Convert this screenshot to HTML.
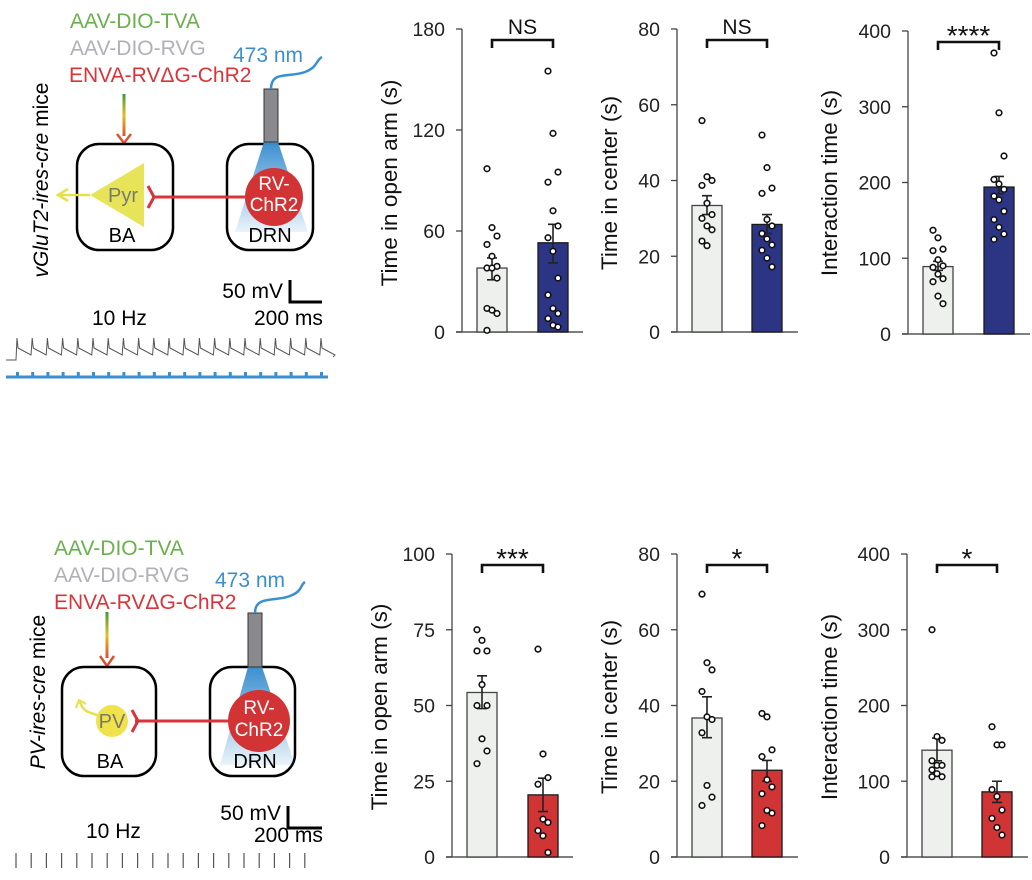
<!DOCTYPE html>
<html><head><meta charset="utf-8"><style>
body{margin:0;background:#fff;}
svg{display:block;font-family:"Liberation Sans",sans-serif;}
</style></head><body>
<svg id="fig" width="1032" height="880" viewBox="0 0 1032 880">
<defs>
<linearGradient id="arr" x1="0" y1="0" x2="0" y2="1"><stop offset="0" stop-color="#3a9a3a"/><stop offset="0.5" stop-color="#e0c020"/><stop offset="1" stop-color="#e05030"/></linearGradient>
<linearGradient id="cone" x1="0" y1="0" x2="0" y2="1"><stop offset="0" stop-color="#3b8fd0"/><stop offset="1" stop-color="#3b8fd0" stop-opacity="0.1"/></linearGradient>
</defs>
<!-- TOP SCHEMATIC -->
<g font-size="21">
<text x="70" y="28" fill="#6ab04c">AAV-DIO-TVA</text>
<text x="70" y="55" fill="#b0b0b8">AAV-DIO-RVG</text>
<text x="69" y="82" fill="#d9343a">ENVA-RVΔG-ChR2</text>
<text x="233" y="62" fill="#3b8fd0">473 nm</text>
<rect x="122.5" y="94" width="3" height="42" fill="url(#arr)"/>
<path d="M117 134 L124 143 L131 134" fill="none" stroke="#e05030" stroke-width="2.5"/>
<rect x="77" y="144" width="96" height="106" rx="22" fill="none" stroke="#000" stroke-width="2.5"/>
<rect x="227" y="144" width="86" height="106" rx="22" fill="none" stroke="#000" stroke-width="2.5"/>
<path d="M264 142 L278 142 L308 232 L235 232 Z" fill="url(#cone)"/>
<rect x="264" y="89" width="14" height="53" fill="#8a8a8e" stroke="#333" stroke-width="1"/>
<path d="M271 89 C271 70 290 78 305 72 C318 67 316 60 322 57" fill="none" stroke="#3b8fd0" stroke-width="2.5"/>
<line x1="90" y1="195" x2="60" y2="195" stroke="#e6e04a" stroke-width="2.5"/>
<path d="M68 189 L58 195 L68 201" fill="none" stroke="#e6e04a" stroke-width="2.5"/>
<path d="M90 195 L144 163 L144 227 Z" fill="#e8e45a"/>
<text x="123" y="202" fill="#7a7a6a" text-anchor="middle" font-size="20">Pyr</text>
<line x1="152" y1="197" x2="250" y2="197" stroke="#d9343a" stroke-width="3"/>
<path d="M148 186 L154 197 L148 208" fill="none" stroke="#d9343a" stroke-width="3"/>
<circle cx="274" cy="197" r="29" fill="#d23436"/>
<text x="274" y="190" fill="#fff" text-anchor="middle" font-size="19">RV-</text>
<text x="274" y="211" fill="#fff" text-anchor="middle" font-size="19">ChR2</text>
<text x="122" y="242" text-anchor="middle" font-size="20">BA</text>
<text x="270" y="242" text-anchor="middle" font-size="20">DRN</text>
<text transform="translate(48,180) rotate(-90)" text-anchor="middle" font-size="21"><tspan font-style="italic">vGluT2-ires-cre</tspan> mice</text>
<text x="283" y="298" text-anchor="end" font-size="21">50 mV</text>
<path d="M290 280 L290 302 L322 302" fill="none" stroke="#000" stroke-width="3"/>
<text x="254" y="325" font-size="21">200 ms</text>
<text x="92" y="325" font-size="21">10 Hz</text>
<g id="trace1"></g>
</g>
<!-- BOTTOM SCHEMATIC -->
<g font-size="21">
<text x="54" y="555" fill="#6ab04c">AAV-DIO-TVA</text>
<text x="54" y="582" fill="#b0b0b8">AAV-DIO-RVG</text>
<text x="54" y="609" fill="#d9343a">ENVA-RVΔG-ChR2</text>
<text x="215" y="587" fill="#3b8fd0">473 nm</text>
<rect x="105.5" y="612" width="3" height="46" fill="url(#arr)"/>
<path d="M100 656 L107 666 L114 656" fill="none" stroke="#e05030" stroke-width="2.5"/>
<rect x="62" y="667" width="94" height="109" rx="22" fill="none" stroke="#000" stroke-width="2.5"/>
<rect x="210" y="667" width="85" height="109" rx="22" fill="none" stroke="#000" stroke-width="2.5"/>
<path d="M248 667 L262 667 L295 765 L220 765 Z" fill="url(#cone)"/>
<rect x="248" y="613" width="14" height="54" fill="#8a8a8e" stroke="#333" stroke-width="1"/>
<path d="M255 613 C255 595 275 602 290 596 C303 591 300 585 305 582" fill="none" stroke="#3b8fd0" stroke-width="2.5"/>
<path d="M99 716 C92 712 84 714 80 702" fill="none" stroke="#e6e04a" stroke-width="2.5"/>
<path d="M76 708 L79 700 L86 704" fill="none" stroke="#e6e04a" stroke-width="2"/>
<circle cx="112" cy="721" r="16" fill="#efe24a"/>
<text x="112" y="728" fill="#7a7a6a" text-anchor="middle" font-size="20">PV</text>
<line x1="135" y1="721" x2="235" y2="721" stroke="#d9343a" stroke-width="3"/>
<path d="M132 710 L138 721 L132 732" fill="none" stroke="#d9343a" stroke-width="3"/>
<circle cx="259" cy="721" r="31" fill="#d23436"/>
<text x="259" y="714" fill="#fff" text-anchor="middle" font-size="19">RV-</text>
<text x="259" y="736" fill="#fff" text-anchor="middle" font-size="19">ChR2</text>
<text x="110" y="768" text-anchor="middle" font-size="20">BA</text>
<text x="255" y="768" text-anchor="middle" font-size="20">DRN</text>
<text transform="translate(45,692) rotate(-90)" text-anchor="middle" font-size="21"><tspan font-style="italic">PV-ires-cre</tspan> mice</text>
<text x="281" y="820" text-anchor="end" font-size="21">50 mV</text>
<path d="M288 806 L288 828 L322 828" fill="none" stroke="#000" stroke-width="3"/>
<text x="254" y="842" font-size="21">200 ms</text>
<text x="86" y="838" font-size="21">10 Hz</text>
<g id="trace2"></g>
</g>
<g id="charts"></g>
</svg>
<script>
// Chart data arrays
const groups = ["Control", "ChR2"];
const c1Means = [38, 53]; const c1Err = [[31, 44], [41, 64]];
const c1A = [97, 62, 57, 52, 45, 39, 38, 38, 32, 14, 13, 11, 1];
const c1B = [155, 118, 95, 89, 72, 63, 56, 48, 32, 22, 14, 11, 8, 4, 3];
const c1Ticks = [0, 60, 120, 180];
const c2Means = [33.4, 28.4]; const c2Err = [[31, 36], [26, 31]];
const c2A = [55.8, 41, 40, 38.7, 34, 31, 30, 28, 27, 24, 22.8];
const c2B = [52, 43.4, 38, 36.6, 29.7, 28, 26, 24.6, 23, 21.6, 19.5, 17.2];
const c2Ticks = [0, 20, 40, 60, 80];
const c3Means = [89, 194]; const c3Err = [[84, 96], [185, 208]];
const c3A = [137, 127, 112, 110, 98, 90, 88, 79, 73, 69, 50, 40];
const c3B = [371, 292, 235, 204, 198, 191, 182, 177, 162, 151, 141, 132, 125];
const c3Ticks = [0, 100, 200, 300, 400];
const c4Means = [54.3, 20.5]; const c4Err = [[49, 59.8], [15, 26]];
const c4A = [75, 71.5, 68, 68, 56.9, 50, 50, 39, 35, 30.8];
const c4B = [68.6, 34, 26.2, 24, 12.5, 11.4, 8.7, 7, 1.5];
const c4Ticks = [0, 25, 50, 75, 100];
const c5Means = [36.7, 22.9]; const c5Err = [[31.5, 42.3], [20, 25.5]];
const c5A = [69.4, 51.3, 49.4, 43.7, 37, 36.3, 32.8, 18.9, 15.8, 13.6];
const c5B = [37.9, 37, 28.3, 26.5, 20.4, 18.5, 16.7, 12.3, 11.6, 8.3];
const c5Ticks = [0, 20, 40, 60, 80];
const c6Means = [141, 86]; const c6Err = [[127, 157], [72, 100]];
const c6A = [300, 159, 154, 127, 121, 121, 115, 110, 106, 106];
const c6B = [172, 148, 148, 89, 80, 62, 51, 39, 29];
const c6Ticks = [0, 100, 200, 300, 400];
const sigLabels = ["NS", "NS", "****", "***", "*", "*"];
const titles = ["Time in open arm (s)", "Time in center (s)", "Interaction time (s)", "Time in open arm (s)", "Time in center (s)", "Interaction time (s)"];

const NS = "http://www.w3.org/2000/svg";
function mk(tag, attrs, parent) { const e = document.createElementNS(NS, tag); for (const k in attrs) e.setAttribute(k, attrs[k]); parent.appendChild(e); return e; }

const layouts = [
  {ax: 462, top: 29, bot: 332, end: 583, bx: [477, 538], tx: 389, ty: 183, color: "#2b3583"},
  {ax: 677, top: 29, bot: 332, end: 798, bx: [692, 752], tx: 609, ty: 183, color: "#2b3583"},
  {ax: 908, top: 31, bot: 334, end: 1030, bx: [923, 984], tx: 829, ty: 183, color: "#2b3583"},
  {ax: 452, top: 554, bot: 857, end: 573, bx: [467, 528], tx: 379, ty: 707, color: "#d03434"},
  {ax: 677, top: 554, bot: 857, end: 798, bx: [692, 752], tx: 609, ty: 707, color: "#d03434"},
  {ax: 907, top: 554, bot: 857, end: 1028, bx: [922, 982], tx: 829, ty: 707, color: "#d03434"}
];
const data = [
  [c1Means, c1Err, c1A, c1B, c1Ticks], [c2Means, c2Err, c2A, c2B, c2Ticks], [c3Means, c3Err, c3A, c3B, c3Ticks],
  [c4Means, c4Err, c4A, c4B, c4Ticks], [c5Means, c5Err, c5A, c5B, c5Ticks], [c6Means, c6Err, c6A, c6B, c6Ticks]
];
const root = document.getElementById("charts");
data.forEach((d, i) => {
  const L = layouts[i]; const [means, err, A, B, ticks] = d;
  const maxV = ticks[ticks.length - 1];
  const y = v => L.bot - (v / maxV) * (L.bot - L.top);
  const g = mk("g", {}, root);
  
  
  mk("line", {x1: L.ax, y1: L.top, x2: L.ax, y2: L.bot, stroke: "#444", "stroke-width": 1.3}, g);
  mk("line", {x1: L.ax - 6, y1: L.bot, x2: L.end, y2: L.bot, stroke: "#555", "stroke-width": 1.5}, g);
  ticks.forEach(t => {
    mk("line", {x1: L.ax - 6, y1: y(t), x2: L.ax, y2: y(t), stroke: "#444", "stroke-width": 1.3}, g);
    const tx = mk("text", {x: L.ax - 17, y: y(t) + 7, "text-anchor": "end", "font-size": 19.5, fill: "#222"}, g);
    
    
    tx.textContent = t;
  });
  const tt = mk("text", {transform: `translate(${L.tx + 8},${L.ty}) rotate(-90)`, "text-anchor": "middle", "font-size": 22.5, fill: "#111"}, g);
  
  
  tt.textContent = titles[i];
  [A, B].forEach((pts, j) => {
    const x0 = L.bx[j], w = 30, cx = x0 + w / 2;
    const bar = mk("rect", {x: x0, y: y(means[j]), width: w, height: L.bot - y(means[j]), fill: j ? L.color : "#eef0ee", stroke: j ? "#1a1a1a" : "#444", "stroke-width": 1.3}, g);
    
    
    const eb = mk("path", {d: `M${cx} ${y(err[j][0])} V${y(err[j][1])} M${cx - 5} ${y(err[j][1])} H${cx + 5} M${cx - 5} ${y(err[j][0])} H${cx + 5}`, stroke: "#222", "stroke-width": 1.6, fill: "none"}, g);
    
    
    pts.forEach((v, k) => {
      const off = ((k % 3) - 1) * 5;
      const c = mk("circle", {cx: cx + off, cy: y(v), r: 2.8, fill: "#fff", stroke: "#111", "stroke-width": 1.6}, g);
      
      
    });
  });
  const c1x = L.bx[0] + 15, c2x = L.bx[1] + 15, by = L.top + 11;
  const br = mk("path", {d: `M${c1x} ${by + 8} V${by} H${c2x} V${by + 8}`, stroke: "#111", "stroke-width": 2.6, fill: "none"}, g);
  
  
  const isNS = sigLabels[i] === "NS";
  const s = mk("text", {x: (c1x + c2x) / 2, y: isNS ? L.top + 5 : L.top + 14, "text-anchor": "middle", "font-size": isNS ? 21 : 28, fill: "#111"}, g);
  
  
  s.textContent = sigLabels[i];
});
// traces
const t1 = document.getElementById("trace1");
let d1 = "M6 360 H16 L16 360"; let pulses = "";
for (let k = 0; k < 21; k++) { const x = 17 + k * 15.2; d1 += ` L${x} 338 L${x + 1} 348 L${x + 14} 355`; pulses += `<rect x="${x - 1}" y="372" width="3" height="5" fill="#3b8fd0"/>`; }
d1 += " L333 357";
mk("path", {d: d1, stroke: "#555", "stroke-width": 1, fill: "none"}, t1);
mk("line", {x1: 6, y1: 377, x2: 328, y2: 377, stroke: "#3b8fd0", "stroke-width": 3}, t1);
t1.insertAdjacentHTML("beforeend", pulses);
const t2 = document.getElementById("trace2");
for (let k = 0; k < 20; k++) { const x = 16 + k * 15.2; mk("line", {x1: x, y1: 853, x2: x, y2: 868, stroke: "#555", "stroke-width": 1.2}, t2); }
</script>
</body></html>
